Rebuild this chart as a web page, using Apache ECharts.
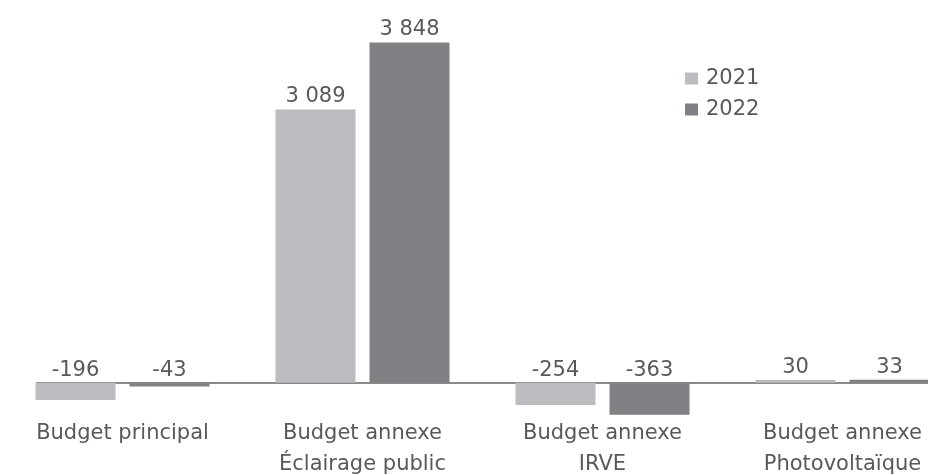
<!DOCTYPE html>
<html>
<head>
<meta charset="utf-8">
<script src="https://cdn.jsdelivr.net/npm/echarts@6/dist/echarts.min.js"></script>
<style>html,body{margin:0;padding:0;background:#fff}#c{width:928px;height:475px}</style>
</head>
<body>
<div id="c"></div>
<script>
var categories = ['Budget principal', 'Budget annexe\nÉclairage public', 'Budget annexe\nIRVE', 'Budget annexe\nPhotovoltaïque'];
var seriesNames = ['2021', '2022'];
var values2021 = [-196, 3089, -254, 30];
var values2022 = [-43, 3848, -363, 33];

var FONT = 'DejaVu Sans';
var TXT = '#595959';
function fmt(v) {
  var s = String(Math.abs(v)).replace(/\B(?=(\d{3})+(?!\d))/g, ' ');
  return (v < 0 ? '-' : '') + s;
}
var chart = echarts.init(document.getElementById('c'));
var lbl = {
  show: true, position: 'top', distance: 2,
  fontFamily: FONT, fontSize: 21, color: TXT,
  formatter: function (p) { return fmt(p.value); }
};
chart.setOption({
  animation: false,
  legend: {
    data: seriesNames, orient: 'vertical', left: 685, top: 68, padding: 0,
    icon: 'rect', itemWidth: 13, itemHeight: 12, itemGap: 10,
    textStyle: { fontFamily: FONT, fontSize: 21, color: TXT, padding: [0, 0, 0, 3] }
  },
  grid: [
    { left: 2.5, right: -34.5, top: 29, bottom: 57, outerBoundsMode: 'none', containLabel: false },
    { left: 37, right: 0, top: 29, bottom: 57, outerBoundsMode: 'none', containLabel: false }
  ],
  xAxis: [
    {
      type: 'category', data: categories, gridIndex: 0,
      axisLine: { show: false, onZero: false }, axisTick: { show: false },
      axisLabel: { fontFamily: FONT, fontSize: 21, color: TXT, lineHeight: 31, margin: 0, interval: 0, hideOverlap: false }
    },
    {
      type: 'category', data: [''], gridIndex: 1,
      axisLine: { show: true, onZero: true, lineStyle: { color: '#8a8a8a', width: 2 } },
      axisTick: { show: false }, axisLabel: { show: false }
    }
  ],
  yAxis: [
    { type: 'value', gridIndex: 0, min: -400, max: 4000, show: false, splitLine: { show: false } },
    { type: 'value', gridIndex: 1, min: -400, max: 4000, show: false, splitLine: { show: false } }
  ],
  series: [
    { name: seriesNames[0], type: 'bar', data: values2021, barWidth: 80, barGap: '17.5%',
      itemStyle: { color: '#bbbcbf' }, label: lbl },
    { name: seriesNames[1], type: 'bar', data: values2022, barWidth: 80, barGap: '17.5%',
      itemStyle: { color: '#7f8084' }, label: lbl }
  ]
});
</script>
</body>
</html>
